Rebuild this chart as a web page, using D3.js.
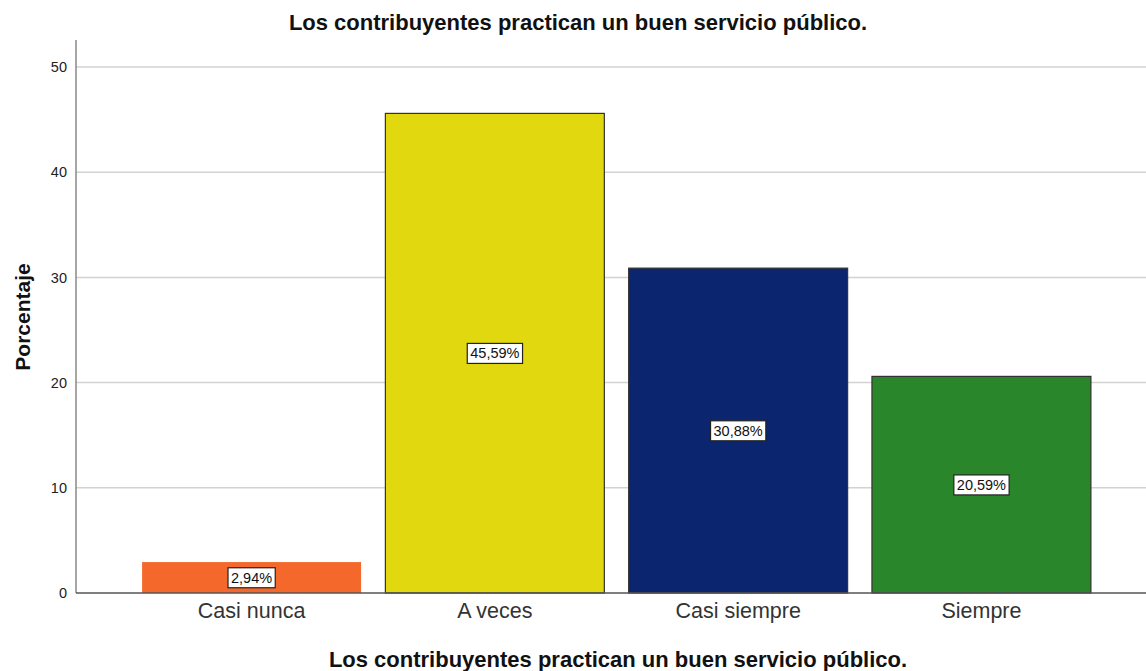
<!DOCTYPE html>
<html>
<head>
<meta charset="utf-8">
<script src="https://cdn.jsdelivr.net/npm/d3@7"></script>
<style>
  body { margin: 0; background: #fff; }
  svg { display: block; font-family: "Liberation Sans", Arial, sans-serif; }
</style>
</head>
<body>
<svg id="chart" width="1146" height="671"></svg>
<script>
const categories = ['Casi nunca', 'A veces', 'Casi siempre', 'Siempre'];
const values = [2.94, 45.59, 30.88, 20.59];
const labels = ['2,94%', '45,59%', '30,88%', '20,59%'];
const colors = ['#f4692b', '#e2d810', '#0b266f', '#2a862a'];
const yTicks = [0, 10, 20, 30, 40, 50];

const W = 1146, H = 671;
const m = { left: 76, right: 0, top: 40, bottom: 78 };
const y0 = H - m.bottom;
const FONT = '"Liberation Sans", Arial, sans-serif';

const svg = d3.select('#chart');

const x = d3.scaleBand()
  .domain(categories)
  .range([m.left + 6, W + 5])
  .paddingInner(0.1)
  .paddingOuter(0.247);

const y = d3.scaleLinear()
  .domain([0, 50])
  .range([y0, 67]);

// ── Grid ──────────────────────────────────────────────────────────────────────

svg.append('g')
  .selectAll('line').data(yTicks.filter(d => d > 0)).join('line')
  .attr('x1', m.left).attr('x2', W)
  .attr('y1', d => y(d)).attr('y2', d => y(d))
  .attr('stroke', '#d2d2d2').attr('stroke-width', 1.5);

// ── Bars ──────────────────────────────────────────────────────────────────────

svg.append('g')
  .selectAll('rect').data(values).join('rect')
  .attr('x', (d, i) => x(categories[i]))
  .attr('y', d => y(d))
  .attr('width', x.bandwidth())
  .attr('height', d => y0 - y(d))
  .attr('fill', (d, i) => colors[i])
  .attr('stroke', (d, i) => i === 0 ? 'none' : '#333')
  .attr('stroke-width', 1.2);

// ── Axes ──────────────────────────────────────────────────────────────────────

const yAxis = svg.append('g')
  .attr('transform', `translate(${m.left},0)`)
  .call(d3.axisLeft(y).tickValues(yTicks).tickSize(0).tickPadding(9));
yAxis.select('.domain').remove();
yAxis.selectAll('text')
  .attr('font-size', '14.5px')
  .attr('fill', '#222')
  .attr('font-family', FONT);

svg.append('line')
  .attr('x1', m.left).attr('x2', m.left)
  .attr('y1', m.top).attr('y2', y0)
  .attr('stroke', '#888').attr('stroke-width', 1.5);

svg.append('line')
  .attr('x1', m.left).attr('x2', W)
  .attr('y1', y0).attr('y2', y0)
  .attr('stroke', '#555').attr('stroke-width', 1.5);

const xAxis = svg.append('g')
  .attr('transform', `translate(0,${y0})`)
  .call(d3.axisBottom(x).tickSize(0).tickPadding(10));
xAxis.select('.domain').remove();
xAxis.selectAll('text')
  .attr('font-size', '21.5px')
  .attr('fill', '#333')
  .attr('font-family', FONT);

// ── Value labels ──────────────────────────────────────────────────────────────

const lab = svg.append('g')
  .selectAll('g').data(values).join('g')
  .attr('transform', (d, i) =>
    `translate(${x(categories[i]) + x.bandwidth() / 2},${(y(d) + y0) / 2})`);

lab.append('text')
  .text((d, i) => labels[i])
  .attr('text-anchor', 'middle')
  .attr('dy', '0.36em')
  .attr('font-size', '14.5px')
  .attr('fill', '#111');

lab.each(function () {
  const g = d3.select(this);
  const bb = g.select('text').node().getBBox();
  g.insert('rect', 'text')
    .attr('x', bb.x - 3).attr('y', bb.y - 2)
    .attr('width', bb.width + 6).attr('height', bb.height + 4)
    .attr('fill', '#fff').attr('stroke', '#222').attr('stroke-width', 1.2);
});

// ── Titles ────────────────────────────────────────────────────────────────────

const titleText = 'Los contribuyentes practican un buen servicio público.';

svg.append('text')
  .text(titleText)
  .attr('x', 578).attr('y', 30)
  .attr('text-anchor', 'middle')
  .attr('font-size', '22px').attr('font-weight', 'bold').attr('fill', '#111');

svg.append('text')
  .text(titleText)
  .attr('x', 618).attr('y', 667)
  .attr('text-anchor', 'middle')
  .attr('font-size', '22px').attr('font-weight', 'bold').attr('fill', '#111');

svg.append('text')
  .text('Porcentaje')
  .attr('transform', 'translate(30,317) rotate(-90)')
  .attr('text-anchor', 'middle')
  .attr('font-size', '21px').attr('font-weight', 'bold').attr('fill', '#111');
</script>
</body>
</html>
